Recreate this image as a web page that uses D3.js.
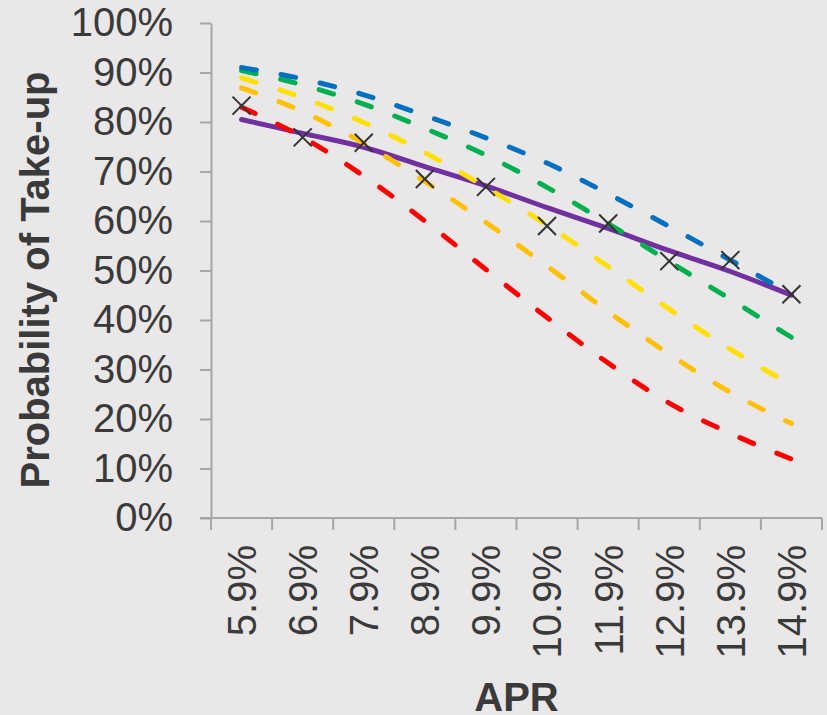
<!DOCTYPE html>
<html>
<head>
<meta charset="utf-8">
<script src="https://cdn.jsdelivr.net/npm/d3@7/dist/d3.min.js"></script>
<style>
  html, body { margin: 0; padding: 0; background: #E9E7E8; }
  svg { display: block; }
  text { font-family: "Liberation Sans", Arial, sans-serif; fill: #3a3a3a; }
</style>
</head>
<body>
<svg id="chart" width="827" height="715"></svg>
<script>
// ---- data ----
const categories = ["5.9%", "6.9%", "7.9%", "8.9%", "9.9%", "10.9%", "11.9%", "12.9%", "13.9%", "14.9%"];
const yTicks = [0, 0.1, 0.2, 0.3, 0.4, 0.5, 0.6, 0.7, 0.8, 0.9, 1.0];

const observed = [0.833, 0.769, 0.758, 0.685, 0.669, 0.590, 0.595, 0.519, 0.521, 0.452];
const fitted   = [0.805, 0.777, 0.749, 0.710, 0.671, 0.627, 0.585, 0.540, 0.498, 0.450];

const seriesBlue   = [0.910, 0.887, 0.855, 0.813, 0.768, 0.717, 0.655, 0.589, 0.521, 0.452];
const seriesGreen  = [0.904, 0.875, 0.836, 0.787, 0.733, 0.668, 0.595, 0.518, 0.442, 0.365];
const seriesYellow = [0.889, 0.849, 0.799, 0.738, 0.668, 0.592, 0.508, 0.422, 0.341, 0.269];
const seriesOrange = [0.869, 0.821, 0.757, 0.680, 0.597, 0.509, 0.417, 0.331, 0.254, 0.191];
const seriesRed    = [0.830, 0.769, 0.691, 0.600, 0.502, 0.405, 0.313, 0.232, 0.171, 0.119];

const dashedSeries = [
  { name: "Red",    values: seriesRed,    color: "#FF0000" },
  { name: "Orange", values: seriesOrange, color: "#FFC000" },
  { name: "Yellow", values: seriesYellow, color: "#FFE000" },
  { name: "Green",  values: seriesGreen,  color: "#00B050" },
  { name: "Blue",   values: seriesBlue,   color: "#0070C0" }
];

// ---- layout ----
const svg = d3.select("#chart");
const plotLeft = 211, plotRight = 822, plotTop = 23, plotBottom = 518;

svg.append("rect").attr("width", 827).attr("height", 715).attr("fill", "#E9E7E8");

const x = d3.scaleBand().domain(categories).range([plotLeft, plotRight]).paddingInner(0).paddingOuter(0);
const xc = c => x(c) + x.bandwidth() / 2;
const y = d3.scaleLinear().domain([0, 1]).range([plotBottom, plotTop]);

const axisColor = "#A6A6A6";

// y axis
const yAxis = d3.axisLeft(y).tickValues(yTicks).tickFormat(d3.format(".0%"))
  .tickSize(11).tickSizeOuter(0).tickPadding(27);
const gy = svg.append("g").attr("transform", `translate(${plotLeft},0)`).call(yAxis);
gy.select(".domain").attr("stroke", axisColor).attr("stroke-width", 2);
gy.selectAll(".tick line").attr("stroke", axisColor).attr("stroke-width", 2);
gy.selectAll(".tick text").attr("font-size", 40).attr("fill", "#3a3a3a")
  .attr("font-family", "Liberation Sans, Arial, sans-serif");

// x axis line
svg.append("line").attr("x1", plotLeft - 11).attr("x2", plotRight).attr("y1", plotBottom).attr("y2", plotBottom)
  .attr("stroke", axisColor).attr("stroke-width", 2);
// x ticks at category boundaries
const bounds = categories.map(c => x(c)).concat([x.range()[1]]);
svg.append("g").selectAll("line").data(bounds).join("line")
  .attr("x1", d => d).attr("x2", d => d).attr("y1", plotBottom).attr("y2", plotBottom + 12)
  .attr("stroke", axisColor).attr("stroke-width", 2);
// x labels
svg.append("g").selectAll("text").data(categories).join("text")
  .attr("transform", d => `translate(${xc(d)},545) rotate(-90)`)
  .attr("text-anchor", "end").attr("dy", "0.36em")
  .attr("font-size", 40)
  .text(d => d);

// axis titles
svg.append("text").attr("transform", "translate(49,280) rotate(-90)")
  .attr("text-anchor", "middle").attr("font-size", 40).attr("font-weight", "bold")
  .text("Probability of Take-up");
svg.append("text").attr("x", (plotLeft + plotRight) / 2).attr("y", 711)
  .attr("text-anchor", "middle").attr("font-size", 40).attr("font-weight", "bold")
  .text("APR");

// ---- lines ----
const line = d3.line().x((d, i) => xc(categories[i])).y(d => y(d)).curve(d3.curveMonotoneX);

svg.append("path").datum(fitted).attr("d", line)
  .attr("fill", "none").attr("stroke", "#7030A0").attr("stroke-width", 5)
  .attr("stroke-linecap", "round");

svg.append("g").selectAll("path").data(dashedSeries).join("path")
  .attr("d", d => line(d.values))
  .attr("fill", "none").attr("stroke", d => d.color).attr("stroke-width", 5)
  .attr("stroke-linecap", "round").attr("stroke-dasharray", "15,25");

// observed markers (X)
const s = 9;
const mk = svg.append("g").selectAll("g").data(observed).join("g")
  .attr("transform", (d, i) => `translate(${xc(categories[i])},${y(d)})`);
mk.append("line").attr("x1", -s).attr("y1", -s).attr("x2", s).attr("y2", s)
  .attr("stroke", "#333").attr("stroke-width", 2);
mk.append("line").attr("x1", -s).attr("y1", s).attr("x2", s).attr("y2", -s)
  .attr("stroke", "#333").attr("stroke-width", 2);
</script>
</body>
</html>
